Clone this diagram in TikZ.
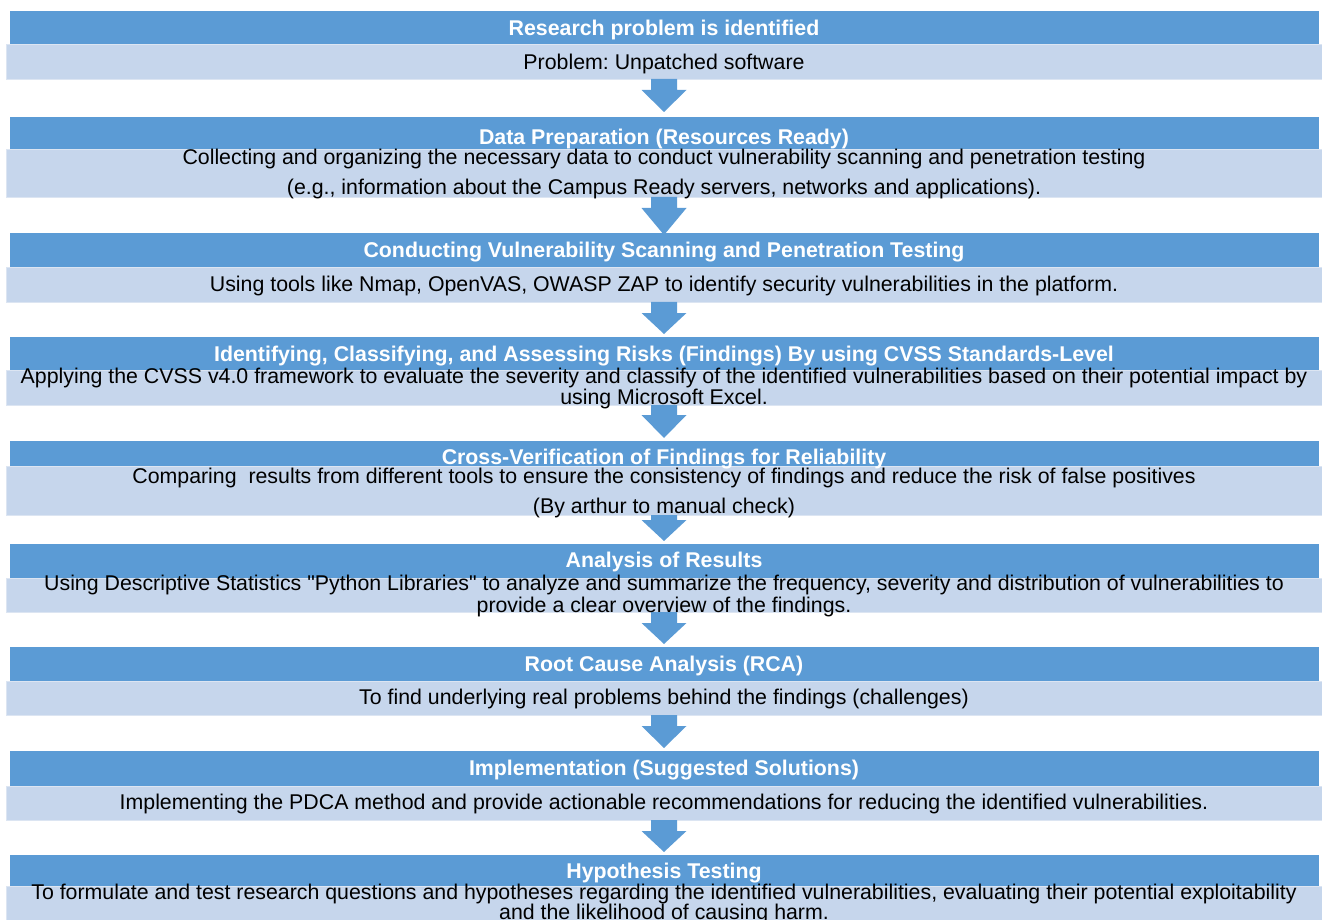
\documentclass[tikz,border=0pt]{standalone}
\usepackage{fontspec}
\setmainfont{Liberation Sans}[Ligatures=TeXOff]
\frenchspacing
\definecolor{hdrblue}{HTML}{5B9BD5}
\definecolor{litebg}{HTML}{C6D6EC}
\definecolor{liteedge}{HTML}{DCE5F2}
\tikzset{
  hdrbox/.style={fill=hdrblue},
  litebox/.style={fill=litebg, draw=liteedge, line width=0.6pt},
  flowarrow/.style={fill=hdrblue},
  hdrtext/.style={anchor=base, inner sep=0pt, text=white, font=\bfseries\fontsize{16}{19}\selectfont},
  bodytext/.style={anchor=base, inner sep=0pt, text=black, font=\fontsize{16}{19}\selectfont},
}
% #1 top, #2 head start, #3 tip (px)
\newcommand\dnarrow[3]{%
  \path[flowarrow] (651,#1) -- (677,#1) -- (677,#2) -- (686.5,#2) -- (664,#3) -- (641.5,#2) -- (651,#2) -- cycle;}
% #1 header top, #2 header bottom / light top, #3 light bottom
\newcommand\block[3]{%
  \path[hdrbox] (9.5,#1) rectangle (1319,#2);
  \path[litebox] (6,#2) rectangle (1322,#3);}
\begin{document}
\begin{tikzpicture}[x=0.75pt,y=-0.75pt]
\useasboundingbox (0,0) rectangle (1322,920);
\clip (0,0) rectangle (1322,920);
\block{11}{44}{79}
\block{117}{149}{197}
\block{233}{267}{302}
\block{337}{370}{405}
\block{441}{466}{515}
\block{544}{578}{612}
\block{647}{681}{715}
\block{751}{786}{820}
\block{855}{886}{925}

\dnarrow{79}{90}{112}
\dnarrow{197}{208}{235}
\dnarrow{302}{313}{334}
\dnarrow{405}{415}{438}
\dnarrow{515}{520}{541}
\dnarrow{612}{623}{644}
\dnarrow{715}{726}{748}
\dnarrow{820}{831}{852}

\node[hdrtext] (h1) at (664,35.6) {Research problem is identified};
\node[bodytext] (b1) at (664,69.6) {Problem: Unpatched software};

\node[hdrtext] (h2) at (664,144.6) {Data Preparation (Resources Ready)};
\node[bodytext] (b2a) at (664,164.6) {Collecting and organizing the necessary data to conduct vulnerability scanning and penetration testing};
\node[bodytext] (b2b) at (664,194.6) {(e.g., information about the Campus Ready servers, networks and applications).};

\node[hdrtext] (h3) at (664,257.6) {Conducting Vulnerability Scanning and Penetration Testing};
\node[bodytext] (b3) at (664,291.6) {Using tools like Nmap, OpenVAS, OWASP ZAP to identify security vulnerabilities in the platform.};

\node[hdrtext] (h4) at (664,361.6) {Identifying, Classifying, and Assessing Risks (Findings) By using CVSS Standards-Level};
\node[bodytext] (b4a) at (664,383.6) {Applying the CVSS v4.0 framework to evaluate the severity and classify of the identified vulnerabilities based on their potential impact by};
\node[bodytext] (b4b) at (664,404.6) {using Microsoft Excel.};

\node[hdrtext] (h5) at (664,464.6) {Cross-Verification of Findings for Reliability};
\node[bodytext] (b5a) at (664,483.6) {Comparing\ \ results from different tools to ensure the consistency of findings and reduce the risk of false positives};
\node[bodytext] (b5b) at (664,513.6) {(By arthur to manual check)};

\node[hdrtext] (h6) at (664,567.6) {Analysis of Results};
\node[bodytext] (b6a) at (664,590.6) {Using Descriptive Statistics "Python Libraries" to analyze and summarize the frequency, severity and distribution of vulnerabilities to};
\node[bodytext] (b6b) at (664,612.6) {provide a clear overview of the findings.};

\node[hdrtext] (h7) at (664,671.6) {Root Cause Analysis (RCA)};
\node[bodytext] (b7) at (664,704.6) {To find underlying real problems behind the findings (challenges)};

\node[hdrtext] (h8) at (664,775.6) {Implementation (Suggested Solutions)};
\node[bodytext] (b8) at (664,809.6) {Implementing the PDCA method and provide actionable recommendations for reducing the identified vulnerabilities.};

\node[hdrtext] (h9) at (664,878.6) {Hypothesis Testing};
\node[bodytext] (b9a) at (664,899.6) {To formulate and test research questions and hypotheses regarding the identified vulnerabilities, evaluating their potential exploitability};
\node[bodytext] (b9b) at (664,919.6) {and the likelihood of causing harm.};
\end{tikzpicture}
\end{document}
